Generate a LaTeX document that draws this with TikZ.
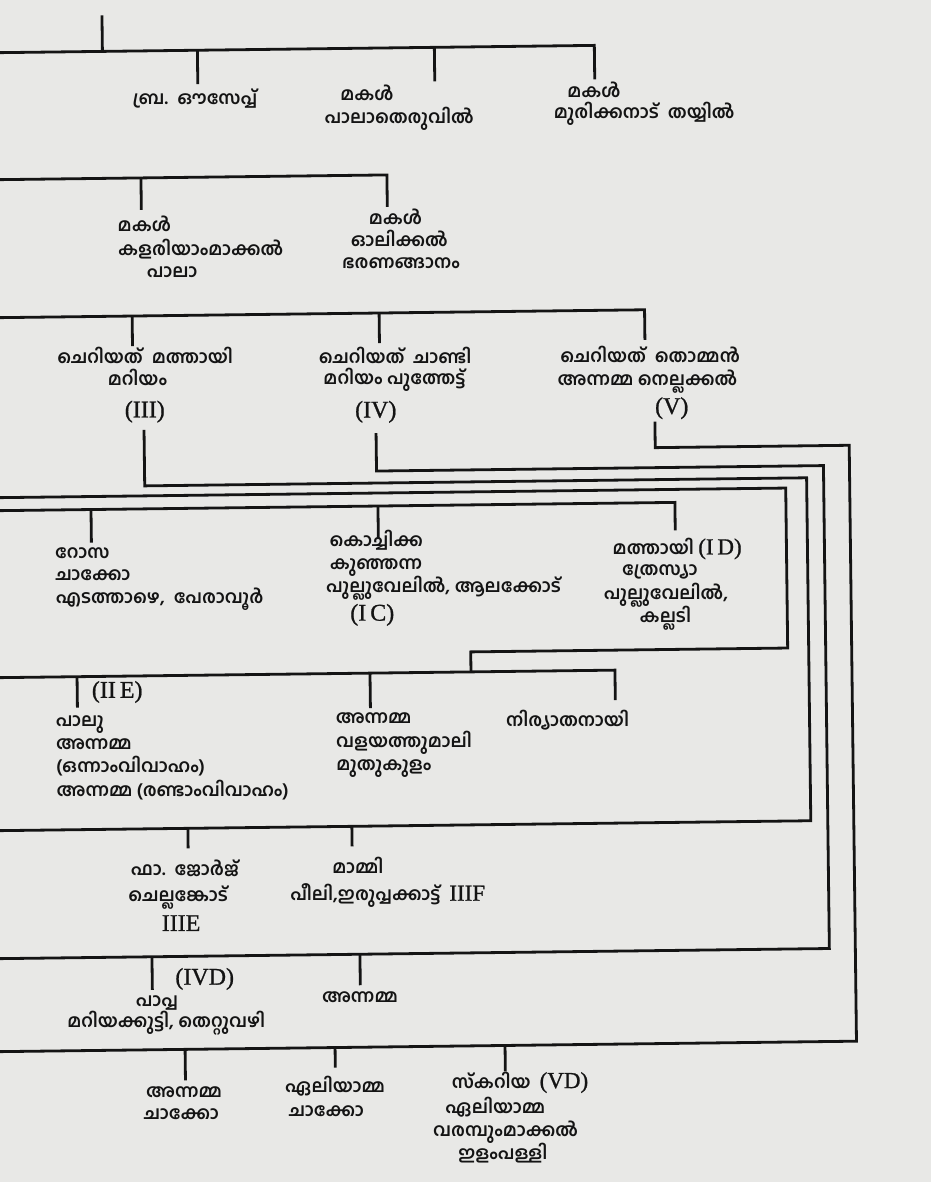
\documentclass[tikz,border=0pt]{standalone}
\usepackage{fontspec}
\newfontfamily\mlfont[Script=Malayalam]{Hind Kochi}
\newfontfamily\rnfont[FakeBold=0.9]{Liberation Serif}
\definecolor{paper}{HTML}{E8E8E6}
\definecolor{ink}{HTML}{141414}
\newcommand{\rnx}[1]{{\rnfont\mdseries\fontsize{23}{25}\selectfont #1}}
\begin{document}
\begin{tikzpicture}[x=1pt,y=-1pt,
 ml/.style={font=\mlfont\bfseries\fontsize{18}{21}\selectfont, inner sep=0pt, text=ink, text height=11.5pt, text depth=0pt},
 rn/.style={font=\rnfont\fontsize{24}{26}\selectfont, inner sep=0pt, text=ink, text height=15pt, text depth=0pt},
 ln/.style={line width=2.8pt, draw=ink, line cap=butt, line join=miter}]
\fill[paper] (0,0) rectangle (931,1182);
\useasboundingbox (0,0) rectangle (931,1182);
\clip (0,0) rectangle (931,1182);
\begin{scope}[rotate around={0.7:(465,590)}]
% ---------- Row A
\coordinate (rootTop) at (109,11);
\coordinate (rootJ) at (109,47);
\coordinate (aL) at (-20,47);
\coordinate (aR) at (601,47);
\coordinate (a3e) at (601,81);
\coordinate (a1) at (204,47); \coordinate (a1e) at (204,81);
\coordinate (a2) at (441,47); \coordinate (a2e) at (441,81);
\draw[ln] (rootTop) -- (rootJ);
\draw[ln] (aL) -- (aR) -- (a3e);
\draw[ln] (a1) -- (a1e);
\draw[ln] (a2) -- (a2e);
\node[ml] (tA1) at (201,95) {ബ്ര.\ \ ഔസേപ്പ്};
\node[ml] (tA2) at (373,94) {മകൾ};
\node[ml] (tA3) at (405,117) {പാലാതെരുവിൽ};
\node[ml] (tA4) at (600,93) {മകൾ};
\node[ml] (tA5) at (650,115) {മുരിക്കനാട്\ \ തയ്യിൽ};
% ---------- Row B
\coordinate (bL) at (-20,174); \coordinate (bR) at (392,174); \coordinate (b2e) at (392,206);
\coordinate (b1) at (146,174); \coordinate (b1e) at (146,206);
\draw[ln] (bL) -- (bR) -- (b2e);
\draw[ln] (b1) -- (b1e);
\node[ml,anchor=west] (tB1) at (122,222) {മകൾ};
\node[ml,anchor=west] (tB2) at (122,245.5) {കളരിയാംമാക്കൽ};
\node[ml] (tB3) at (176,268) {പാലാ};
\node[ml] (tB4) at (400,217.5) {മകൾ};
\node[ml] (tB5) at (403.5,240) {ഓലിക്കൽ};
\node[ml] (tB6) at (405,262) {ഭരണങ്ങാനം};
% ---------- Row C
\coordinate (cL) at (-20,312); \coordinate (cR) at (648,312); \coordinate (c3e) at (648,342);
\coordinate (c1) at (135.5,312); \coordinate (c1e) at (135.5,342);
\coordinate (c2) at (382.5,312); \coordinate (c2e) at (382.5,342);
\draw[ln] (cL) -- (cR) -- (c3e);
\draw[ln] (c1) -- (c1e);
\draw[ln] (c2) -- (c2e);
\node[ml] (tC1) at (148,354) {ചെറിയത്\ \ മത്തായി};
\node[ml] (tC2) at (140,376) {മറിയം};
\node[rn] (III) at (147,406) {(III)};
\node[ml] (tC3) at (398,357) {ചെറിയത്\ \ ചാണ്ടി};
\node[ml] (tC4) at (397,378) {മറിയം പുത്തേട്ട്};
\node[rn] (IV) at (378,409) {(IV)};
\node[ml] (tC5) at (653,359) {ചെറിയത്\ \ തൊമ്മൻ};
\node[ml] (tC6) at (650,382) {അന്നമ്മ നെല്ലക്കൽ};
\node[rn] (V) at (674,409) {(V)};
% ---------- long connectors
\coordinate (p3s) at (146,426); \coordinate (p3a) at (146,482); \coordinate (p3b) at (808,482);
\coordinate (eR) at (808,825); \coordinate (eL) at (-20,825);
\draw[ln] (p3s) -- (p3a) -- (p3b) -- (eR) -- (eL);
\coordinate (p4s) at (378,432); \coordinate (p4a) at (378,470); \coordinate (p4b) at (825,470);
\coordinate (gR) at (825,953); \coordinate (gL) at (-20,953);
\draw[ln] (p4s) -- (p4a) -- (p4b) -- (gR) -- (gL);
\coordinate (p5s) at (657,424); \coordinate (p5a) at (657,450); \coordinate (p5b) at (851,450);
\coordinate (hR) at (851,1046); \coordinate (hL) at (-20,1046);
\draw[ln] (p5s) -- (p5a) -- (p5b) -- (hR) -- (hL);
\coordinate (qL) at (-20,492); \coordinate (qa) at (787,492); \coordinate (qb) at (787,652);
\coordinate (qc) at (470,652); \coordinate (qd) at (470,672);
\draw[ln] (qL) -- (qa) -- (qb) -- (qc) -- (qd);
% ---------- Row D
\coordinate (dL) at (-20,505); \coordinate (dR) at (676,505); \coordinate (d3e) at (676,533);
\coordinate (d1) at (92,505); \coordinate (d1e) at (92,538);
\coordinate (d2) at (379,505); \coordinate (d2e) at (379,538);
\draw[ln] (dL) -- (dR) -- (d3e);
\draw[ln] (d1) -- (d1e);
\draw[ln] (d2) -- (d2e);
\node[ml,anchor=west] (tD1) at (55.5,548) {റോസ};
\node[ml,anchor=west] (tD2) at (55.5,570) {ചാക്കോ};
\node[ml,anchor=west] (tD3) at (55.5,593) {എടത്താഴെ,\ \ പേരാവൂർ};
\node[ml,anchor=west] (tD4) at (330,539) {കൊച്ചിക്ക};
\node[ml,anchor=west] (tD5) at (330,562) {കുഞ്ഞന്ന};
\node[ml,anchor=west] (tD6) at (326,585) {പുല്ലുവേലിൽ,\ ആലക്കോട്};
\node[rn] (IC) at (372,612) {(I\,C)};
\node[ml,anchor=west] (tD7) at (613,550.5) {മത്തായി\ \rnx{(I\,D)}};
\node[ml] (tD8) at (660,572.4) {ത്രേസ്യാ};
\node[ml] (tD9) at (666,596.5) {പുല്ലുവേലിൽ,};
\node[ml] (tD10) at (665,619.5) {കല്ലടി};
% ---------- Row F
\coordinate (fL) at (-20,672); \coordinate (fR) at (614,672); \coordinate (f3e) at (614,702);
\coordinate (f1) at (76,672); \coordinate (f1e) at (76,703);
\coordinate (f2) at (369,672); \coordinate (f2e) at (369,707);
\draw[ln] (fL) -- (fR) -- (f3e);
\draw[ln] (f1) -- (f1e);
\draw[ln] (f2) -- (f2e);
\node[rn] (IIE) at (116,686) {(II\,E)};
\node[ml,anchor=west] (tF1) at (54,716) {പാലു};
\node[ml,anchor=west] (tF2) at (54,739) {അന്നമ്മ};
\node[ml,anchor=west] (tF3) at (54,762) {(ഒന്നാംവിവാഹം)};
\node[ml,anchor=west] (tF4) at (54,786) {അന്നമ്മ (രണ്ടാംവിവാഹം)};
\node[ml,anchor=west] (tF5) at (334,716) {അന്നമ്മ};
\node[ml,anchor=west] (tF6) at (334,740) {വളയത്തുമാലി};
\node[ml,anchor=west] (tF7) at (334,763) {മുതുകുളം};
\node[ml] (tF8) at (566,722) {നിര്യാതനായി};
% ---------- Row E
\coordinate (e1) at (185,825); \coordinate (e1e) at (185,845);
\coordinate (e2) at (349,825); \coordinate (e2e) at (349,845);
\draw[ln] (e1) -- (e1e);
\draw[ln] (e2) -- (e2e);
\node[ml] (tE1) at (181.5,866) {ഫാ.\ \ ജോർജ്};
\node[ml] (tE2) at (174.5,892) {ചെല്ലങ്കോട്};
\node[rn] (IIIE) at (177,920) {IIIE};
\node[ml] (tE3) at (354.5,866) {മാമ്മി};
\node[ml] (tE4) at (384,894) {പീലി,ഇരുപ്പക്കാട്ട്\ \ \rnx{IIIF}};
% ---------- Row G
\coordinate (g1) at (147.5,953); \coordinate (g1e) at (147.5,986);
\coordinate (g2) at (355.5,953); \coordinate (g2e) at (355.5,984);
\draw[ln] (g1) -- (g1e);
\draw[ln] (g2) -- (g2e);
\node[rn] (IVD) at (200,974) {(IVD)};
\node[ml] (tG1) at (152,997) {പാപ്പ};
\node[ml] (tG2) at (161,1018) {മറിയക്കുട്ടി, തെറ്റുവഴി};
\node[ml] (tG3) at (355,995) {അന്നമ്മ};
% ---------- Row H
\coordinate (h1) at (179.5,1046); \coordinate (h1e) at (179.5,1077);
\coordinate (h2) at (329.5,1046); \coordinate (h2e) at (329.5,1066);
\coordinate (h3) at (499.5,1046); \coordinate (h3e) at (499.5,1072);
\draw[ln] (h1) -- (h1e);
\draw[ln] (h2) -- (h2e);
\draw[ln] (h3) -- (h3e);
\node[ml] (tH1) at (178,1088) {അന്നമ്മ};
\node[ml] (tH2) at (175,1110) {ചാക്കോ};
\node[ml] (tH3) at (329,1085) {ഏലിയാമ്മ};
\node[ml] (tH4) at (320,1109) {ചാക്കോ};
\node[ml] (tH5) at (514,1083) {സ്കറിയ\ \ \rnx{(VD)}};
\node[ml] (tH6) at (489,1108) {ഏലിയാമ്മ};
\node[ml] (tH7) at (499,1131) {വരമ്പുംമാക്കൽ};
\node[ml] (tH8) at (496,1154) {ഇളംപള്ളി};
\end{scope}
\end{tikzpicture}
\end{document}
